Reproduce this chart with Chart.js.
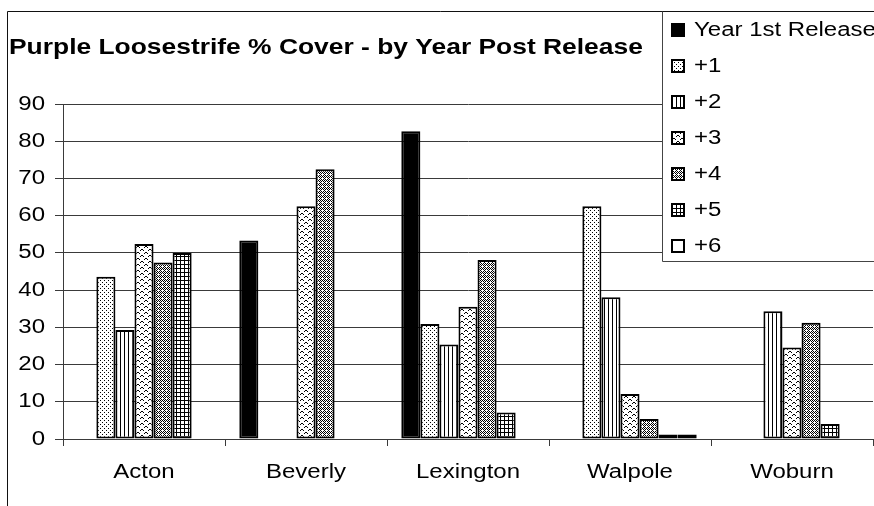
<!DOCTYPE html>
<html lang="en">
<head>
<meta charset="UTF-8">
<title>Purple Loosestrife % Cover</title>
<script src="https://cdn.jsdelivr.net/npm/chart.js"></script>
<style>
  html, body { margin: 0; padding: 0; background: #fff; }
</style>
</head>
<body>
<canvas id="chart" width="874" height="506"></canvas>

<script>
    // Sites and series (percent cover per year after release)
    const categories = ["Acton", "Beverly", "Lexington", "Walpole", "Woburn"];
    const seriesNames = ["Year 1st Release", "+1", "+2", "+3", "+4", "+5", "+6"];

    const yearFirst = [null, 53.3, 82.7, null, null];
    const plus1 = [43.6, null, 30.9, 62.5, null];
    const plus2 = [29.3, null, 25.4, 38.1, 34.3];
    const plus3 = [52.4, 62.5, 35.5, 12.1, 24.6];
    const plus4 = [47.4, 72.5, 48.1, 5.4, 31.2];
    const plus5 = [50.0, null, 7.1, 1.2, 4.0];
    const plus6 = [null, null, null, 1.2, null];

    const seriesValues = [yearFirst, plus1, plus2, plus3, plus4, plus5, plus6];

    const titleText = "Purple Loosestrife % Cover - by Year Post Release";
    const FONT = "20px 'Liberation Sans', Arial, sans-serif";
    const TITLE_FONT = "bold 22px 'Liberation Sans', Arial, sans-serif";
    const stretch = 1.2; // text is drawn a bit wide

    // build a repeating fill from a little pixel map ("X" = black)
    function tile(rows, bg) {
        const c = document.createElement("canvas");
        c.width = rows[0].length;
        c.height = rows.length;
        const g = c.getContext("2d");
        g.fillStyle = bg || "#fff";
        g.fillRect(0, 0, c.width, c.height);
        g.fillStyle = "#000";
        rows.forEach((r, j) => {
            for (let i = 0; i < r.length; i++) if (r[i] === "X") g.fillRect(i, j, 1, 1);
        });
        return document.getElementById("chart").getContext("2d").createPattern(c, "repeat");
    }

    const fills = [
        "#000",
        tile(["X...", "....", "..X.", "...."]),
        tile(["X..."]),
        tile([".XX.....", "X..X....", "........", ".....XX.", "....X..X", "........"]),
        tile(["X.X.", ".X.X", "X...", ".X.X"]),
        tile(["XXXX", "X...", "X...", "X..."]),
        "#fff"
    ];

    function text(ctx, str, x, y, align, font) {
        ctx.save();
        ctx.translate(x, y);
        ctx.scale(stretch, 1);
        ctx.font = font;
        ctx.textAlign = align;
        ctx.textBaseline = "middle";
        ctx.fillStyle = "#000";
        ctx.fillText(str, 0, 0);
        ctx.restore();
    }

    // labels, title, frame and legend box
    const decor = {
        id: "decor",
        afterDraw(chart) {
            const ctx = chart.ctx;
            const xs = chart.scales.x, ys = chart.scales.y;

            ys.ticks.forEach((t, i) => text(ctx, String(t.value), ys.right - 18, ys.getPixelForTick(i), "right", FONT));
            categories.forEach((c, i) => text(ctx, c, xs.getPixelForValue(i), 472, "center", FONT));
            text(ctx, titleText, 9, 48, "left", TITLE_FONT);

            // outer frame
            ctx.save();
            ctx.strokeStyle = "#111";
            ctx.lineWidth = 1;
            ctx.beginPath();
            ctx.moveTo(7.5, 506);
            ctx.lineTo(7.5, 11.5);
            ctx.lineTo(874, 11.5);
            ctx.stroke();

            // legend box
            ctx.fillStyle = "#fff";
            ctx.fillRect(663, 12, 211, 250);
            ctx.strokeStyle = "#444";
            ctx.beginPath();
            ctx.moveTo(662.5, 11.5);
            ctx.lineTo(662.5, 261.5);
            ctx.lineTo(874, 261.5);
            ctx.stroke();

            chart.data.datasets.forEach((ds, i) => {
                const cy = 30 + i * 36;
                ctx.fillStyle = ds.backgroundColor;
                ctx.fillRect(671, cy - 7, 14, 14);
                ctx.strokeStyle = "#000";
                ctx.lineWidth = 2;
                ctx.strokeRect(672, cy - 6, 12, 12);
                text(ctx, ds.label, 694, cy, "left", FONT);
            });
            ctx.restore();
        }
    };

    const ctx = document.getElementById("chart").getContext("2d");
    new Chart(ctx, {
        type: "bar",
        data: {
            labels: categories,
            datasets: seriesNames.map((name, i) => ({
                label: name,
                data: seriesValues[i],
                backgroundColor: fills[i],
                borderColor: "#000",
                borderWidth: 2,
                borderSkipped: false,
                categoryPercentage: 7 / 8.5,
                barPercentage: 1
            }))
        },
        options: {
            responsive: false,
            animation: false,
            layout: { padding: { top: 104, right: 1, left: 0, bottom: 0 } },
            plugins: {
                legend: { display: false },
                title: { display: false },
                tooltip: { enabled: false }
            },
            scales: {
                x: {
                    offset: true,
                    grid: { offset: true, drawOnChartArea: false, drawTicks: true, tickLength: 7, color: "#3a3a3a" },
                    border: { color: "#3a3a3a" },
                    ticks: { display: false },
                    afterFit(s) { s.height = 67; }
                },
                y: {
                    min: 0,
                    max: 90,
                    ticks: { stepSize: 10, display: false },
                    grid: { color: "#3a3a3a", tickLength: 8 },
                    border: { color: "#3a3a3a" },
                    afterFit(s) { s.width = 63; }
                }
            }
        },
        plugins: [decor]
    });
</script>
</body>
</html>
